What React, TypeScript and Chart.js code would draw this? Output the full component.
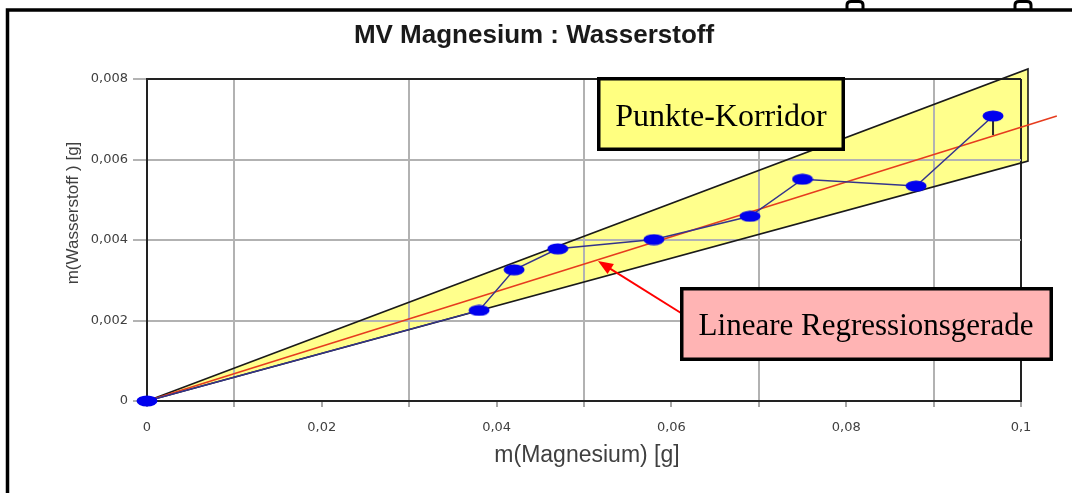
import React, { useEffect, useRef } from 'react';
import { Chart, registerables } from 'chart.js';

Chart.register(...registerables);

// ---- data ----
const messX = [0, 0.038, 0.042, 0.047, 0.058, 0.069, 0.075, 0.088, 0.0968];
const messY = [0, 0.00225, 0.00326, 0.00378, 0.00401, 0.00459, 0.00551, 0.00534, 0.00708];
const regX = [0, 0.1041];
const regY = [0, 0.00708];
const korridorX = [0, 0.1008, 0.1008, 0];
const korridorY = [0, 0.00825, 0.00596, 0];
const residX = [0.0968, 0.0968];
const residY = [0.00708, 0.00661];
const xTickLabels = ['0', '', '0,02', '', '0,04', '', '0,06', '', '0,08', '', '0,1'];
const yTickLabels = ['0', '0,002', '0,004', '0,006', '0,008'];
const titleText = 'MV Magnesium : Wasserstoff';
const xTitle = 'm(Magnesium) [g]';
const yTitle = 'm(Wasserstoff ) [g]';
const labelKorridor = 'Punkte-Korridor';
const labelRegression = 'Lineare Regressionsgerade';

const pts = (xs: number[], ys: number[]) => xs.map((x, i) => ({ x, y: ys[i] }));

function makeEllipse(): HTMLCanvasElement {
  const c = document.createElement('canvas');
  c.width = 22;
  c.height = 12;
  const g = c.getContext('2d')!;
  g.fillStyle = '#0000ee';
  g.beginPath();
  g.ellipse(11, 6, 10.5, 5.5, 0, 0, Math.PI * 2);
  g.fill();
  return c;
}

const GRID_GRAY = '#b2b2b2';
const DARK = '#222222';
const SANS = "'Liberation Sans', Arial, sans-serif";
const TICKFONT = "'DejaVu Sans', 'Liberation Sans', sans-serif";
const SERIF = "'Liberation Serif', 'Times New Roman', serif";

export default function App() {
  const ref = useRef<HTMLCanvasElement>(null);

  useEffect(() => {
    const canvas = ref.current!;
    const ellipse = makeEllipse();

    const fillPlugin = {
      id: 'korridorFill',
      beforeDraw(chart: any) {
        const meta = chart.getDatasetMeta(3);
        const ctx = chart.ctx;
        ctx.save();
        ctx.fillStyle = '#ffff8c';
        ctx.beginPath();
        meta.data.forEach((p: any, i: number) => (i ? ctx.lineTo(p.x, p.y) : ctx.moveTo(p.x, p.y)));
        ctx.closePath();
        ctx.fill();
        ctx.restore();
      },
    };

    const decoPlugin = {
      id: 'deco',
      afterDraw(chart: any) {
        const ctx = chart.ctx as CanvasRenderingContext2D;
        ctx.save();
        // outer frame
        ctx.strokeStyle = '#000';
        ctx.lineWidth = 3.5;
        ctx.beginPath();
        ctx.moveTo(7.5, 493);
        ctx.lineTo(7.5, 10);
        ctx.lineTo(1072, 10);
        ctx.stroke();
        // little handles at top
        ctx.lineWidth = 3;
        [[847, 863], [1015, 1031]].forEach(([a, b]) => {
          ctx.beginPath();
          ctx.moveTo(a, 10);
          ctx.lineTo(a, 5);
          ctx.quadraticCurveTo(a, 1.5, a + 4, 1.5);
          ctx.lineTo(b - 4, 1.5);
          ctx.quadraticCurveTo(b, 1.5, b, 5);
          ctx.lineTo(b, 10);
          ctx.stroke();
        });

        // title
        ctx.fillStyle = '#1a1a1a';
        ctx.font = `bold 26px ${SANS}`;
        ctx.textAlign = 'center';
        ctx.textBaseline = 'alphabetic';
        ctx.fillText(titleText, 534, 43);

        // axis titles
        ctx.fillStyle = '#404040';
        ctx.font = `23px ${SANS}`;
        ctx.textBaseline = 'middle';
        ctx.fillText(xTitle, 587, 456);
        ctx.save();
        ctx.translate(73, 213);
        ctx.rotate(-Math.PI / 2);
        ctx.font = `17px ${SANS}`;
        ctx.fillText(yTitle, 0, 0);
        ctx.restore();

        // arrow
        ctx.strokeStyle = '#ff0000';
        ctx.fillStyle = '#ff0000';
        ctx.lineWidth = 2;
        const x0 = 681, y0 = 313, x1 = 598, y1 = 261;
        const ang = Math.atan2(y1 - y0, x1 - x0);
        ctx.beginPath();
        ctx.moveTo(x0, y0);
        ctx.lineTo(x1 - 10 * Math.cos(ang), y1 - 10 * Math.sin(ang));
        ctx.stroke();
        ctx.beginPath();
        ctx.moveTo(x1, y1);
        ctx.lineTo(x1 - 15 * Math.cos(ang) + 6 * Math.sin(ang), y1 - 15 * Math.sin(ang) - 6 * Math.cos(ang));
        ctx.lineTo(x1 - 15 * Math.cos(ang) - 6 * Math.sin(ang), y1 - 15 * Math.sin(ang) + 6 * Math.cos(ang));
        ctx.closePath();
        ctx.fill();

        // boxes
        ctx.lineWidth = 3.5;
        ctx.strokeStyle = '#000';
        ctx.fillStyle = '#ffff80';
        ctx.fillRect(598.75, 78.75, 244.5, 70.5);
        ctx.strokeRect(598.75, 78.75, 244.5, 70.5);
        ctx.fillStyle = '#ffb4b4';
        ctx.fillRect(681.75, 288.75, 369.5, 70.5);
        ctx.strokeRect(681.75, 288.75, 369.5, 70.5);

        ctx.fillStyle = '#000';
        ctx.textAlign = 'center';
        ctx.textBaseline = 'alphabetic';
        ctx.font = `32px ${SERIF}`;
        ctx.fillText(labelKorridor, 721, 126);
        ctx.font = `31px ${SERIF}`;
        ctx.fillText(labelRegression, 866, 335);
        ctx.restore();
      },
    };

    const chart = new Chart(canvas, {
      type: 'scatter',
      data: {
        datasets: [
          {
            label: 'Messwerte',
            data: pts(messX, messY),
            showLine: true,
            borderColor: '#34348c',
            borderWidth: 1.5,
            pointStyle: ellipse as any,
            pointRadius: 6,
            clip: false as any,
          },
          {
            label: 'Residuum',
            data: pts(residX, residY),
            showLine: true,
            borderColor: '#2a2a2a',
            borderWidth: 2,
            pointRadius: 0,
            clip: false as any,
          },
          {
            label: 'Regression',
            data: pts(regX, regY),
            showLine: true,
            borderColor: '#e63c1e',
            borderWidth: 1.6,
            pointRadius: 0,
            clip: false as any,
          },
          {
            label: 'Korridor',
            data: pts(korridorX, korridorY),
            showLine: true,
            borderColor: '#1a1a1a',
            borderWidth: 1.6,
            pointRadius: 0,
            clip: false as any,
          },
        ],
      },
      options: {
        responsive: false,
        devicePixelRatio: 1,
        animation: false,
        events: [],
        layout: { padding: { left: 0, top: 79, right: 51, bottom: 0 } },
        plugins: { legend: { display: false }, tooltip: { enabled: false }, title: { display: false } },
        scales: {
          x: {
            type: 'linear',
            min: 0,
            max: 0.1,
            afterFit: (s: any) => {
              s.height = 92;
            },
            border: { color: DARK, width: 2 },
            grid: {
              color: (c: any) => (c.index === 10 ? DARK : c.index % 2 === 1 ? GRID_GRAY : 'rgba(0,0,0,0)'),
              lineWidth: 2,
              tickColor: '#8a8a8a',
              tickLength: 6,
              tickWidth: 1.5,
            },
            ticks: {
              stepSize: 0.01,
              autoSkip: false,
              maxRotation: 0,
              padding: 13,
              color: '#404040',
              font: { family: TICKFONT, size: 13 },
              callback: (_v: any, i: number) => xTickLabels[i] ?? '',
            },
          },
          y: {
            type: 'linear',
            min: 0,
            max: 0.008,
            afterFit: (s: any) => {
              s.width = 147;
            },
            border: { color: DARK, width: 2 },
            grid: {
              color: (c: any) => (c.index === 4 ? DARK : c.index === 0 ? 'rgba(0,0,0,0)' : GRID_GRAY),
              lineWidth: 2,
              tickColor: '#9a9a9a',
              tickLength: 14,
              tickWidth: 1.5,
            },
            ticks: {
              stepSize: 0.002,
              autoSkip: false,
              padding: 5,
              color: '#404040',
              font: { family: TICKFONT, size: 13 },
              callback: (_v: any, i: number) => yTickLabels[i] ?? '',
            },
          },
        },
      },
      plugins: [fillPlugin, decoPlugin],
    });

    return () => chart.destroy();
  }, []);

  return (
    <div style={{ position: 'absolute', left: 0, top: 0, width: 1072, height: 493, background: '#fff' }}>
      <canvas ref={ref} width={1072} height={493} style={{ display: 'block', width: 1072, height: 493 }} />
    </div>
  );
}
